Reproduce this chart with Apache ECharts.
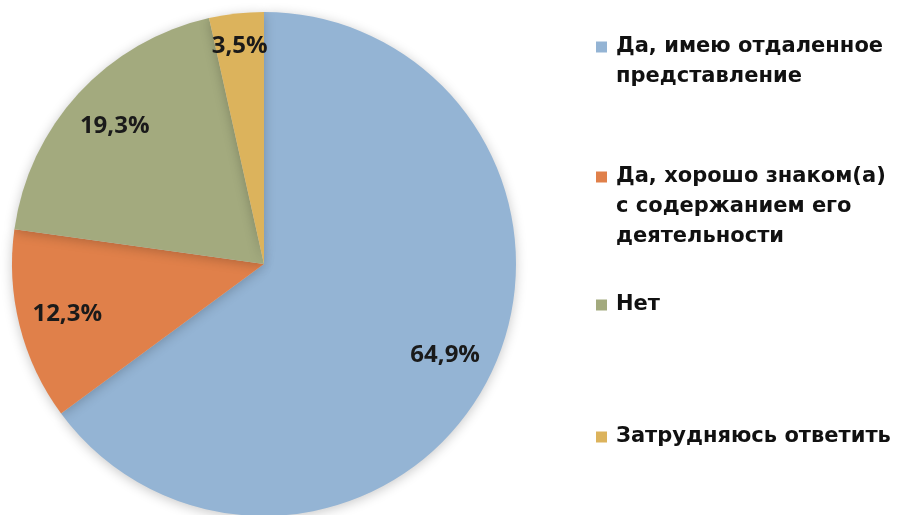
<!DOCTYPE html>
<html><head><meta charset="utf-8">
<script src="https://cdn.jsdelivr.net/npm/echarts@6/dist/echarts.min.js"></script>
<style>html,body{margin:0;padding:0;background:#fff}#c{width:899px;height:515px}</style>
</head><body><div id="c"></div>
<script>
const categories = ['Да, имею отдаленное представление', 'Да, хорошо знаком(а) с содержанием его деятельности', 'Нет', 'Затрудняюсь ответить'];
const values = [64.9, 12.3, 19.3, 3.5];
const colors = ['#94B4D4', '#E0804A', '#A3AA7E', '#DCB35C'];
const legendLines = [
  ['Да, имею отдаленное', 'представление'],
  ['Да, хорошо знаком(а)', 'с содержанием его', 'деятельности'],
  ['Нет'],
  ['Затрудняюсь ответить']
];
const legendCenters = [47, 177, 305, 437];
const LH = 30;

const data = categories.map((n, i) => ({ name: n, value: values[i], itemStyle: { color: colors[i] } }));
const fmt = v => v.toFixed(1).replace('.', ',') + '%';

const legends = categories.map((n, i) => {
  const lines = legendLines[i];
  const k = lines.length;
  const txt = Array(k - 1).fill(' ').concat(lines).join('\n');
  return {
    data: [n], orient: 'vertical', left: 596,
    top: legendCenters[i] - (2 * k - 1) * LH / 2,
    padding: 0, icon: 'rect', itemWidth: 11, itemHeight: 11,
    selectedMode: false,
    formatter: () => txt,
    textStyle: { fontFamily: 'DejaVu Sans', fontWeight: 'bold', fontSize: 21, lineHeight: LH, color: '#111', padding: [0, 0, 0, 4] }
  };
});

const chart = echarts.init(document.getElementById('c'));
chart.setOption({
  animation: false,
  legend: legends,
  series: [
    {
      type: 'pie', center: [264, 264], radius: [0, 252], startAngle: 90, clockwise: true,
      data: data, label: { show: false }, labelLine: { show: false }, silent: true,
      itemStyle: { shadowBlur: 12, shadowColor: 'rgba(0,0,0,0.22)', shadowOffsetY: 2 }
    },
    {
      type: 'pie', center: [264, 264], radius: [148, 252], startAngle: 90, clockwise: true,
      data: data.map((d, i) => ({ name: d.name, value: d.value, itemStyle: { color: 'rgba(0,0,0,0)' },
        label: i === 3 ? { offset: [-2, -16] } : {} })),
      silent: true, labelLine: { show: false },
      label: { show: true, position: 'inside', formatter: p => fmt(p.value), fontFamily: 'Open Sans', fontWeight: 'bold', fontSize: 24, color: '#1a1a1a' }
    }
  ]
});
</script></body></html>
